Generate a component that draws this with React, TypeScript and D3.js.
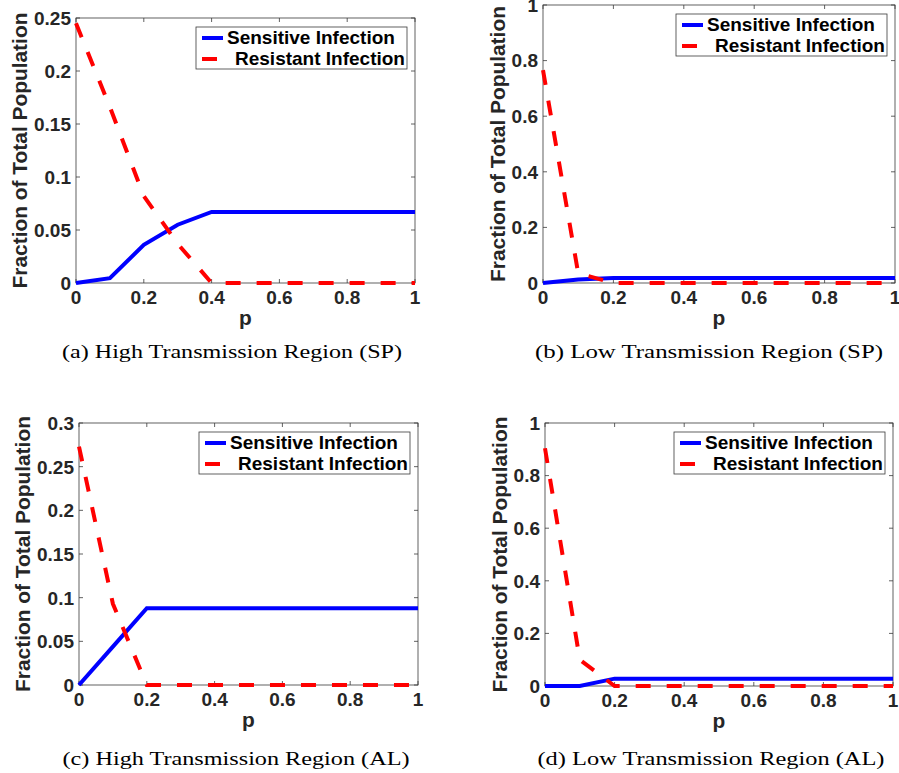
import React from 'react';
import * as d3 from 'd3';

// ---------- data ----------
const X_TICKS = [0, 0.2, 0.4, 0.6, 0.8, 1];

const P_A = [0, 0.1, 0.2, 0.3, 0.4, 0.5, 0.6, 0.7, 0.8, 0.9, 1];
const SENS_A = [0, 0.0045, 0.036, 0.055, 0.067, 0.067, 0.067, 0.067, 0.067, 0.067, 0.067];
const RES_A = [0.245, 0.166, 0.082, 0.037, 0, 0, 0, 0, 0, 0, 0];
const Y_TICKS_A = [0, 0.05, 0.1, 0.15, 0.2, 0.25];

const P_B = [0, 0.1, 0.2, 0.3, 0.4, 0.5, 0.6, 0.7, 0.8, 0.9, 1];
const SENS_B = [0, 0.013, 0.018, 0.018, 0.018, 0.018, 0.018, 0.018, 0.018, 0.018, 0.018];
const RES_B = [0.766, 0.035, 0, 0, 0, 0, 0, 0, 0, 0, 0];
const Y_TICKS_B = [0, 0.2, 0.4, 0.6, 0.8, 1];

const P_C = [0, 0.1, 0.2, 0.3, 0.4, 0.5, 0.6, 0.7, 0.8, 0.9, 1];
const SENS_C = [0, 0.044, 0.088, 0.088, 0.088, 0.088, 0.088, 0.088, 0.088, 0.088, 0.088];
const RES_C = [0.273, 0.093, 0, 0, 0, 0, 0, 0, 0, 0, 0];
const Y_TICKS_C = [0, 0.05, 0.1, 0.15, 0.2, 0.25, 0.3];

const P_D = [0, 0.1, 0.2, 0.3, 0.4, 0.5, 0.6, 0.7, 0.8, 0.9, 1];
const SENS_D = [0, 0, 0.028, 0.028, 0.028, 0.028, 0.028, 0.028, 0.028, 0.028, 0.028];
const RES_D = [0.904, 0.1, 0, 0, 0, 0, 0, 0, 0, 0, 0];
const Y_TICKS_D = [0, 0.2, 0.4, 0.6, 0.8, 1];

const SERIES_NAMES = ['Sensitive Infection', 'Resistant Infection'];
const X_LABEL = 'p';
const Y_LABEL = 'Fraction of Total Population';
const CAPTIONS = [
  '(a) High Transmission Region (SP)',
  '(b) Low Transmission Region (SP)',
  '(c) High Transmission Region (AL)',
  '(d) Low Transmission Region (AL)',
];

// ---------- layout ----------
const TXT = '#262626';
const AX = '#3a3a3a';
const SANS = '"Liberation Sans", Arial, Helvetica, sans-serif';
const SERIF = '"Liberation Serif", "DejaVu Serif", serif';

type Spec = {
  p: number[]; sens: number[]; res: number[]; yTicks: number[]; yMax: number;
  l: number; r: number; t: number; b: number; ylabX: number;
  caption: string; capX: number; capY: number; capW: number;
};

const SPECS: Spec[] = [
  { p: P_A, sens: SENS_A, res: RES_A, yTicks: Y_TICKS_A, yMax: 0.25,
    l: 76, r: 415, t: 18, b: 283, ylabX: 26.5, caption: CAPTIONS[0], capX: 232, capY: 358, capW: 340 },
  { p: P_B, sens: SENS_B, res: RES_B, yTicks: Y_TICKS_B, yMax: 1,
    l: 543, r: 895, t: 5, b: 283, ylabX: 505, caption: CAPTIONS[1], capX: 709, capY: 358, capW: 348 },
  { p: P_C, sens: SENS_C, res: RES_C, yTicks: Y_TICKS_C, yMax: 0.3,
    l: 79, r: 418, t: 423, b: 685, ylabX: 30, caption: CAPTIONS[2], capX: 236, capY: 765, capW: 347 },
  { p: P_D, sens: SENS_D, res: RES_D, yTicks: Y_TICKS_D, yMax: 1,
    l: 545, r: 893, t: 423, b: 686, ylabX: 507, caption: CAPTIONS[3], capX: 711, capY: 765, capW: 347 },
];

const TICK = 4;
const DASH = '15,16';

function Panel({ s }: { s: Spec }) {
  const x = d3.scaleLinear().domain([0, 1]).range([s.l, s.r]);
  const y = d3.scaleLinear().domain([0, s.yMax]).range([s.b, s.t]);
  const line = d3.line<number>().x((_, i) => x(s.p[i])).y((d) => y(d));
  const legW = 211, legH = 42;
  const legX = s.r - 8 - legW;
  const legY = s.t + 9;
  return (
    <g>
      <rect x={s.l} y={s.t} width={s.r - s.l} height={s.b - s.t} fill="white" stroke={AX} strokeWidth={0.8} />
      {X_TICKS.map((v) => (
        <g key={'x' + v}>
          <line x1={x(v)} x2={x(v)} y1={s.b} y2={s.b - TICK} stroke={AX} strokeWidth={0.8} />
          <line x1={x(v)} x2={x(v)} y1={s.t} y2={s.t + TICK} stroke={AX} strokeWidth={0.8} />
          <text x={x(v)} y={s.b + 21} textAnchor="middle" fontFamily={SANS} fontWeight="bold" fontSize={19} fill={TXT}>{String(v)}</text>
        </g>
      ))}
      {s.yTicks.map((v) => (
        <g key={'y' + v}>
          <line x1={s.l} x2={s.l + TICK} y1={y(v)} y2={y(v)} stroke={AX} strokeWidth={0.8} />
          <line x1={s.r} x2={s.r - TICK} y1={y(v)} y2={y(v)} stroke={AX} strokeWidth={0.8} />
          <text x={s.l - 5} y={y(v)} dy="0.36em" textAnchor="end" fontFamily={SANS} fontWeight="bold" fontSize={19} fill={TXT}>{String(v)}</text>
        </g>
      ))}
      <path d={line(s.sens) || ''} fill="none" stroke="#0000ff" strokeWidth={4} />
      <path d={line(s.res) || ''} fill="none" stroke="#ff0000" strokeWidth={4} strokeDasharray={DASH} />
      <text x={(s.l + s.r) / 2} y={s.b + 42} textAnchor="middle" fontFamily={SANS} fontWeight="bold" fontSize={20.9} fill={TXT}>{X_LABEL}</text>
      <text transform={`translate(${s.ylabX},${(s.t + s.b) / 2}) rotate(-90)`} textAnchor="middle" fontFamily={SANS} fontWeight="bold" fontSize={20.9} fill={TXT}>{Y_LABEL}</text>
      <g>
        <rect x={legX} y={legY} width={legW} height={legH} fill="white" stroke={AX} strokeWidth={0.8} />
        <line x1={legX + 6} x2={legX + 27} y1={legY + 11} y2={legY + 11} stroke="#0000ff" strokeWidth={4} />
        <line x1={legX + 6} x2={legX + 27} y1={legY + 32} y2={legY + 32} stroke="#ff0000" strokeWidth={4} strokeDasharray={DASH} />
        <text x={legX + 31} y={legY + 17} fontFamily={SANS} fontWeight="bold" fontSize={19} fill="#000">{SERIES_NAMES[0]}</text>
        <text x={legX + 39} y={legY + 38} fontFamily={SANS} fontWeight="bold" fontSize={19} fill="#000">{SERIES_NAMES[1]}</text>
      </g>
      <text x={s.capX} y={s.capY} textAnchor="middle" fontFamily={SERIF} fontSize={19} fill="#000"
        textLength={s.capW} lengthAdjust="spacingAndGlyphs">{s.caption}</text>
    </g>
  );
}

export default function App() {
  return (
    <svg width={899} height={773} style={{ position: 'absolute', left: 0, top: 0, background: 'white' }}>
      <rect x={0} y={0} width={899} height={773} fill="white" />
      {SPECS.map((s, i) => <Panel key={i} s={s} />)}
    </svg>
  );
}
